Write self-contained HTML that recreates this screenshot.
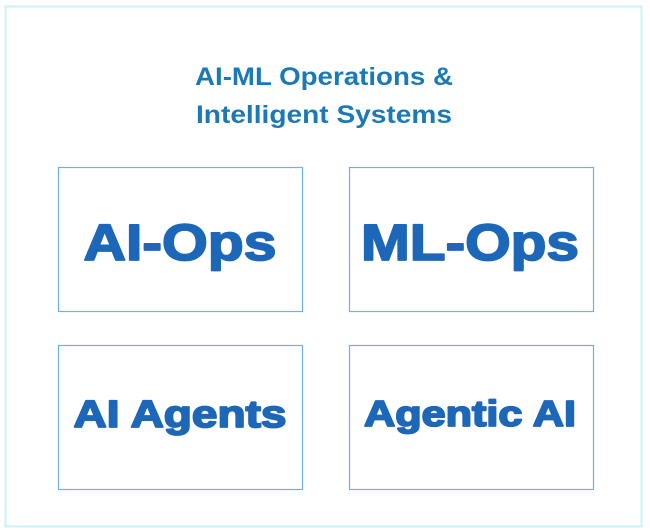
<!DOCTYPE html>
<html><head><meta charset="utf-8"><style>
html,body{margin:0;padding:0;background:#fff;width:650px;height:532px;overflow:hidden}
</style></head><body>
<svg width="650" height="532" xmlns="http://www.w3.org/2000/svg" style="display:block">
<rect x="5.5" y="6.5" width="636" height="520" fill="#fff" stroke="#c8f3fa" stroke-width="2"/>
<g font-family="Liberation Sans, sans-serif" font-weight="bold" fill="#1b7ab5" font-size="25" text-anchor="middle">
<text x="324" y="85" textLength="258" lengthAdjust="spacingAndGlyphs">AI-ML Operations &amp;</text>
<text x="324" y="123" textLength="256" lengthAdjust="spacingAndGlyphs">Intelligent Systems</text>
</g>
<g fill="#fff" stroke="#6cb2e3" stroke-width="1.2">
<rect x="58.5" y="167.5" width="244" height="144"/>
<rect x="349.5" y="167.5" width="244" height="144"/>
<rect x="58.5" y="345.5" width="244" height="144"/>
<rect x="349.5" y="345.5" width="244" height="144"/>
</g>
<g font-family="Liberation Sans, sans-serif" font-weight="bold" fill="#1d67b8" stroke="#1d67b8" stroke-width="1.8" stroke-linejoin="round" text-anchor="middle">
<text x="180" y="260" font-size="51" textLength="193" lengthAdjust="spacingAndGlyphs">AI-Ops</text>
<text x="470" y="260" font-size="51" textLength="218" lengthAdjust="spacingAndGlyphs">ML-Ops</text>
<text x="180" y="427" font-size="38" textLength="213" lengthAdjust="spacingAndGlyphs">AI Agents</text>
<text x="470" y="426" font-size="36" textLength="212" lengthAdjust="spacingAndGlyphs">Agentic AI</text>
</g>
</svg>
</body></html>
